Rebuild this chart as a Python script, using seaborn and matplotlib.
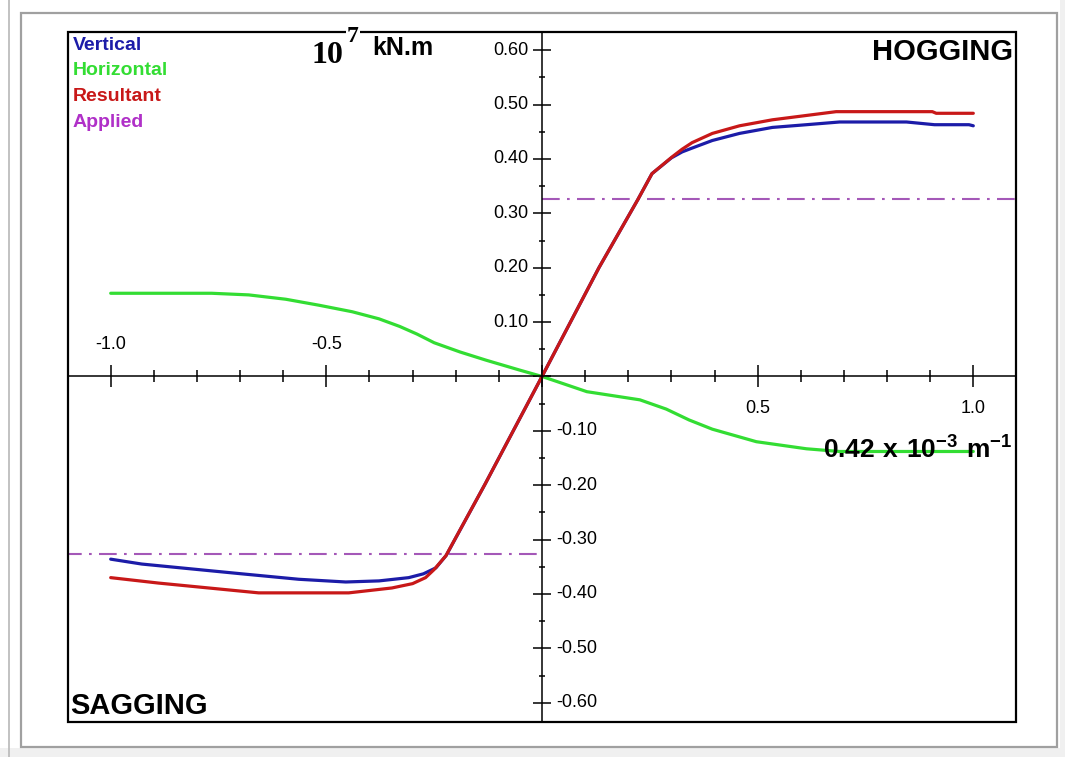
import pandas as pd
import seaborn as sns
import matplotlib.pyplot as plt
from matplotlib.patches import Rectangle
from matplotlib.ticker import MultipleLocator

# curvature (x 0.42e-3 1/m) vs bending moment (x 1e7 kN.m)
vertical_x = [-1.0, -0.928, -0.812, -0.696, -0.564, -0.455, -0.378, -0.309, -0.275, -0.246,
              -0.222, -0.132, -0.066, 0.0, 0.066, 0.132, 0.222, 0.255, 0.30, 0.325, 0.348,
              0.395, 0.458, 0.534, 0.613, 0.69, 0.845, 0.91, 0.99, 1.0]
vertical_y = [-0.336, -0.345, -0.354, -0.363, -0.373, -0.378, -0.376, -0.370, -0.363, -0.352,
              -0.329, -0.198, -0.099, 0.0, 0.100, 0.200, 0.325, 0.373, 0.402, 0.413, 0.420,
              0.434, 0.447, 0.458, 0.463, 0.468, 0.468, 0.463, 0.463, 0.461]

horizontal_x = [-1.0, -0.766, -0.68, -0.594, -0.517, -0.44, -0.378, -0.33, -0.29, -0.25,
                -0.19, -0.13, -0.053, 0.0, 0.104, 0.227, 0.288, 0.341, 0.395, 0.497, 0.613,
                0.69, 1.0]
horizontal_y = [0.153, 0.153, 0.150, 0.142, 0.131, 0.119, 0.106, 0.092, 0.078, 0.062,
                0.045, 0.030, 0.012, 0.0, -0.028, -0.043, -0.060, -0.080, -0.097, -0.120,
                -0.133, -0.138, -0.138]

resultant_x = [-1.0, -0.889, -0.773, -0.657, -0.448, -0.348, -0.30, -0.27, -0.25, -0.223,
               -0.132, -0.066, 0.0, 0.066, 0.132, 0.222, 0.255, 0.302, 0.325, 0.348, 0.395,
               0.458, 0.534, 0.613, 0.682, 0.905, 0.914, 1.0]
resultant_y = [-0.370, -0.380, -0.389, -0.398, -0.398, -0.389, -0.381, -0.370, -0.355, -0.330,
               -0.198, -0.099, 0.0, 0.100, 0.200, 0.325, 0.373, 0.404, 0.418, 0.430, 0.447,
               0.461, 0.472, 0.480, 0.487, 0.487, 0.484, 0.484]

applied_level = 0.327
x_limits = (-1.099, 1.099)

x_tick_values = [-1.0, -0.5, 0.5, 1.0]
x_tick_labels = ["-1.0", "-0.5", "0.5", "1.0"]
y_tick_values = [0.6, 0.5, 0.4, 0.3, 0.2, 0.1, -0.1, -0.2, -0.3, -0.4, -0.5, -0.6]
y_tick_labels = ["0.60", "0.50", "0.40", "0.30", "0.20", "0.10",
                 "-0.10", "-0.20", "-0.30", "-0.40", "-0.50", "-0.60"]

legend_names = ["Vertical", "Horizontal", "Resultant", "Applied"]
colors = {"Vertical": "#1c1ca8", "Horizontal": "#33dd33",
          "Resultant": "#c81818", "Applied": "#a458b8"}
legend_text_colors = ["#1c1ca8", "#33dd33", "#c81818", "#b030c8"]

sns.set_style("white")
plt.rcParams['font.family'] = ['Liberation Sans', 'DejaVu Sans']
plt.rcParams['text.color'] = 'black'
plt.rcParams['axes.labelcolor'] = 'black'
plt.rcParams['xtick.color'] = 'black'
plt.rcParams['ytick.color'] = 'black'
plt.rcParams['mathtext.fontset'] = 'custom'
plt.rcParams['mathtext.rm'] = 'Liberation Sans'
plt.rcParams['mathtext.bf'] = 'Liberation Sans:bold'

W, H = 1065, 757
fig = plt.figure(figsize=(W / 100, H / 100), dpi=100, facecolor="white")

# screenshot window decoration
fig.patches.append(Rectangle((1060 / W, 0), 5 / W, 1, transform=fig.transFigure,
                             facecolor="#f0f0f0", edgecolor="none", zorder=-5))
fig.patches.append(Rectangle((0, 0), 1, 9 / H, transform=fig.transFigure,
                             facecolor="#f0f0f0", edgecolor="none", zorder=-5))
fig.patches.append(Rectangle((21 / W, 1 - 747 / H), (1057 - 21) / W, (747 - 13) / H,
                             transform=fig.transFigure, facecolor="white",
                             edgecolor="#a0a0a0", lw=1.6, zorder=-4))
fig.lines.append(plt.Line2D([9 / W, 9 / W], [0, 1], transform=fig.transFigure,
                            color="#b8b8b8", lw=1.2))

ax = fig.add_axes([68 / W, 1 - 722 / H, (1016 - 68) / W, (722 - 32) / H])

df_v = pd.DataFrame({"x": vertical_x, "y": vertical_y})
df_h = pd.DataFrame({"x": horizontal_x, "y": horizontal_y})
df_r = pd.DataFrame({"x": resultant_x, "y": resultant_y})

dashdot = (0, (8.5, 3.5, 1.3, 3.5))
sns.lineplot(x=[x_limits[0] - 0.01, 0], y=[-applied_level, -applied_level], ax=ax,
             color=colors["Applied"], lw=1.5, linestyle=dashdot)
sns.lineplot(x=[0, x_limits[1] + 0.01], y=[applied_level, applied_level], ax=ax,
             color=colors["Applied"], lw=1.5, linestyle=dashdot)
sns.lineplot(data=df_h, x="x", y="y", ax=ax, color=colors["Horizontal"], lw=2.3,
             sort=False, estimator=None)
sns.lineplot(data=df_v, x="x", y="y", ax=ax, color=colors["Vertical"], lw=2.3,
             sort=False, estimator=None)
sns.lineplot(data=df_r, x="x", y="y", ax=ax, color=colors["Resultant"], lw=2.3,
             sort=False, estimator=None)

ax.set_xlim(*x_limits)
ax.set_ylim(-0.6355, 0.6335)
ax.set_xlabel("")
ax.set_ylabel("")

# axes crossing at the origin, box drawn around the plot
ax.spines["left"].set_position(("data", 0))
ax.spines["bottom"].set_position(("data", 0))
for s in ["left", "bottom"]:
    ax.spines[s].set_linewidth(1.1)
    ax.spines[s].set_color("black")
for s in ["top", "right"]:
    ax.spines[s].set_visible(False)
ax.add_patch(Rectangle((0, 0), 1, 1, transform=ax.transAxes, fill=False,
                       edgecolor="black", lw=1.6, clip_on=False, zorder=5))

ax.xaxis.set_major_locator(MultipleLocator(0.5))
ax.xaxis.set_minor_locator(MultipleLocator(0.1))
ax.yaxis.set_major_locator(MultipleLocator(0.1))
ax.yaxis.set_minor_locator(MultipleLocator(0.05))
ax.tick_params(axis="x", which="major", direction="inout", length=16, width=1.1,
               bottom=True, labelbottom=False)
ax.tick_params(axis="x", which="minor", direction="inout", length=9, width=1.1, bottom=True)
ax.tick_params(axis="y", which="major", direction="inout", length=13, width=1.1,
               left=True, labelleft=False)
ax.tick_params(axis="y", which="minor", direction="inout", length=5, width=1.1, left=True)

for v, lab in zip(x_tick_values, x_tick_labels):
    off = 23 if v < 0 else -23
    ax.annotate(lab, xy=(v, 0), xytext=(0, off), textcoords="offset points",
                ha="center", va="center", fontsize=13)
for v, lab in zip(y_tick_values, y_tick_labels):
    if v > 0:
        ax.annotate(lab, xy=(0, v), xytext=(-10, 0), textcoords="offset points",
                    ha="right", va="center", fontsize=13)
    else:
        ax.annotate(lab, xy=(0, v), xytext=(10, 0), textcoords="offset points",
                    ha="left", va="center", fontsize=13)

# legend as coloured words in the top-left corner
for i, (name, c) in enumerate(zip(legend_names, legend_text_colors)):
    fig.text(73 / W, 1 - (45 + 25.7 * i) / H, name, color=c, fontsize=14,
             fontweight="bold", ha="left", va="center")

fig.text(312 / W, 1 - 63 / H, "10", family=["Liberation Serif", "DejaVu Serif"],
         fontweight="bold", fontsize=23, ha="left", va="baseline",
         bbox=dict(facecolor="white", edgecolor="none", pad=4))
fig.text(347 / W, 1 - 42 / H, "7", family=["Liberation Serif", "DejaVu Serif"],
         fontweight="bold", fontsize=17, ha="left", va="baseline",
         bbox=dict(facecolor="white", edgecolor="none", pad=1))
fig.text(372 / W, 1 - 55 / H, "kN.m", fontweight="bold", fontsize=18,
         ha="left", va="baseline")

fig.text(1013 / W, 1 - 60 / H, "HOGGING", fontweight="bold", fontsize=21,
         ha="right", va="baseline")
fig.text(70 / W, 1 - 714 / H, "SAGGING", fontweight="bold", fontsize=21,
         ha="left", va="baseline")
fig.text(823 / W, 1 - 459 / H, r"$\mathbf{0.42\ x\ 10^{-3}\ m^{-1}}$", fontsize=19,
         ha="left", va="baseline", zorder=10)

fig.savefig("out.png", dpi=100, facecolor=fig.get_facecolor())
